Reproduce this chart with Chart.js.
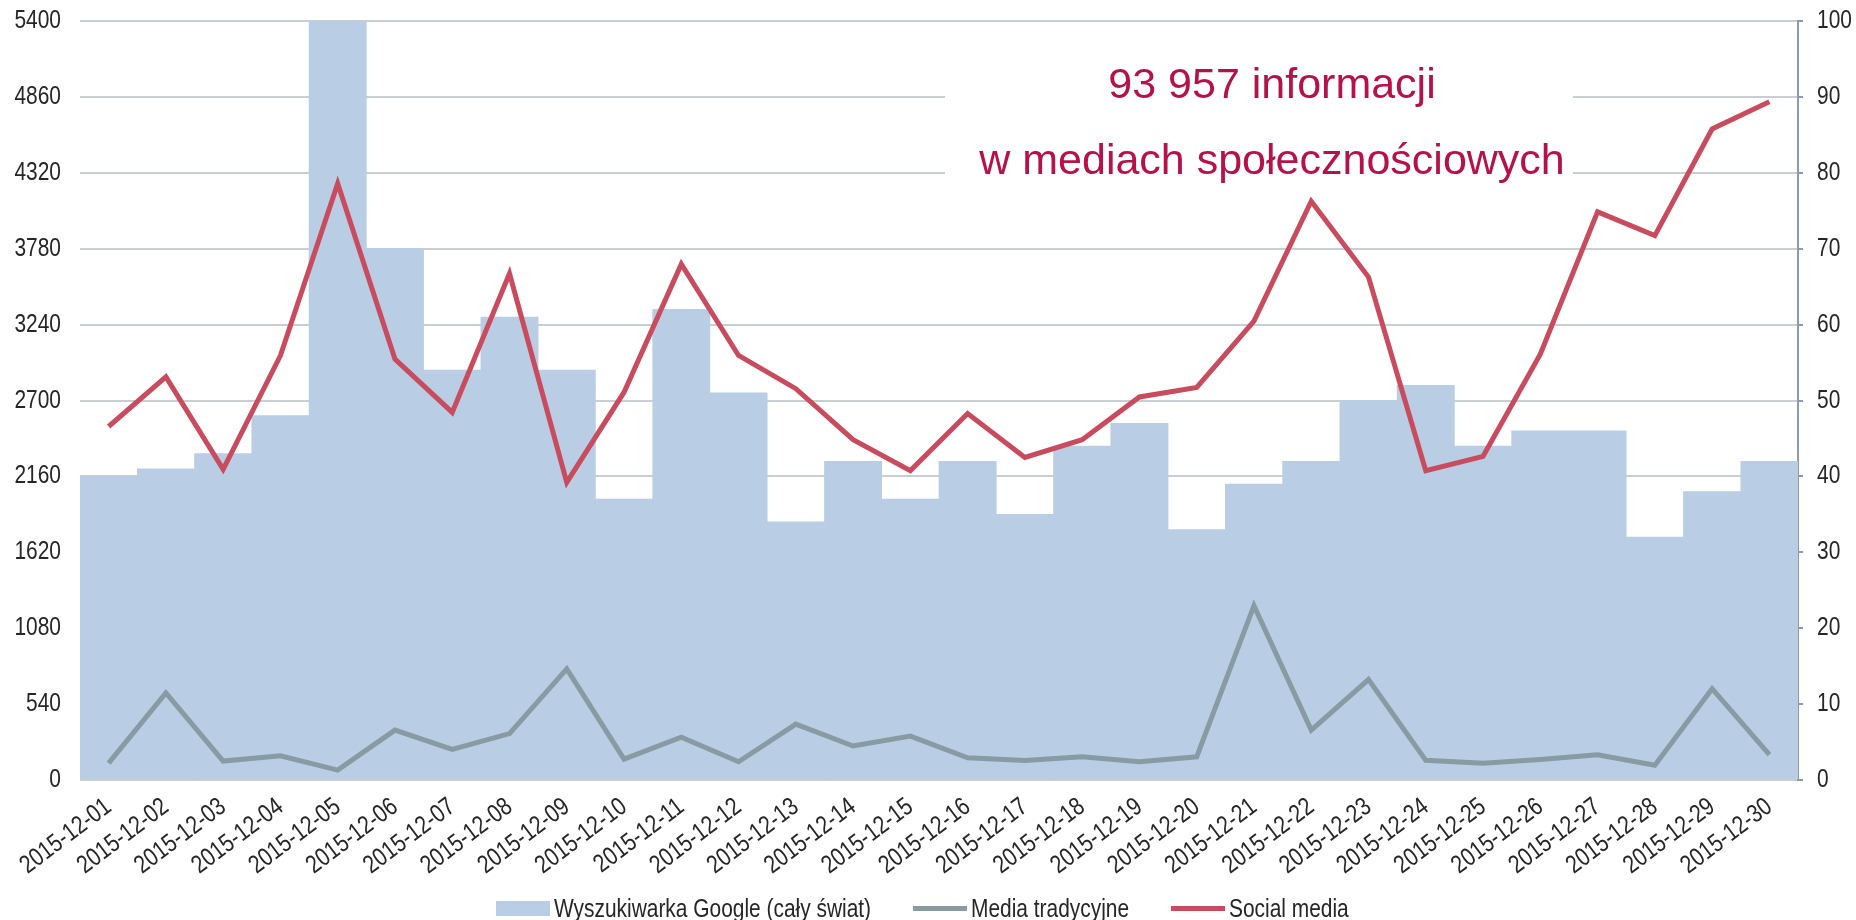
<!DOCTYPE html>
<html>
<head>
<meta charset="utf-8">
<script src="https://cdn.jsdelivr.net/npm/chart.js@4.4.1/dist/chart.umd.min.js"></script>
<style>
  html, body { margin: 0; padding: 0; background: #fff; }
  #wrap { position: relative; width: 1856px; height: 920px; overflow: hidden; }
  #legend {
    position: absolute; left: -6px; top: 893px; width: 1856px; height: 30px;
    display: flex; justify-content: center; align-items: center;
    color: #262626; white-space: nowrap;
  }
  .item { display: flex; align-items: center; margin: 0 21px; }
  .swatch { width: 54px; margin-right: 4px; }
  .label { display: inline-block; }
  .label span { display: inline-block; transform-origin: 0 50%; }
</style>
</head>
<body>
<div id="wrap">
  <canvas id="chart" width="1856" height="920"></canvas>
  <div id="legend"></div>
</div>
<script>
// Days of December 2015
const days = [
  '2015-12-01', '2015-12-02', '2015-12-03', '2015-12-04', '2015-12-05',
  '2015-12-06', '2015-12-07', '2015-12-08', '2015-12-09', '2015-12-10',
  '2015-12-11', '2015-12-12', '2015-12-13', '2015-12-14', '2015-12-15',
  '2015-12-16', '2015-12-17', '2015-12-18', '2015-12-19', '2015-12-20',
  '2015-12-21', '2015-12-22', '2015-12-23', '2015-12-24', '2015-12-25',
  '2015-12-26', '2015-12-27', '2015-12-28', '2015-12-29', '2015-12-30'
];

// Google search interest (right axis, 0-100)
const googleSearch = [40, 41, 43, 48, 100, 70, 54, 61, 54, 37,
                      62, 51, 34, 42, 37, 42, 35, 44, 47, 33,
                      39, 42, 50, 52, 44, 46, 46, 32, 38, 42];

// Traditional media mentions (left axis)
const traditionalMedia = [120, 620, 135, 172, 70, 355, 218, 330, 790, 148,
                          305, 130, 398, 242, 312, 158, 138, 165, 130, 165,
                          1240, 355, 715, 140, 119, 145, 180, 105, 650, 180];

// Social media mentions (left axis)
const socialMedia = [2515, 2868, 2210, 3020, 4244, 2995, 2615, 3603, 2117, 2759,
                     3670, 3020, 2784, 2421, 2201, 2607, 2295, 2421, 2725, 2793,
                     3265, 4118, 3578, 2201, 2303, 3029, 4042, 3873, 4632, 4826];

const seriesNames = ['Wyszukiwarka Google (cały świat)', 'Media tradycyjne', 'Social media'];
const calloutLines = ['93 957 informacji', 'w mediach społecznościowych'];

const FONT = "'Liberation Sans', Arial, sans-serif";
const SIZE = 25.5;
const NARROW = 0.82;   // no Arial Narrow here, so squeeze the regular face
const TEXT = '#262626';
const GRID = '#C9CED4';
const AXIS = '#8E9BA8';

const ctx = document.getElementById('chart').getContext('2d');

// fake a condensed font: every label is squeezed along its own baseline
const rawFillText = ctx.fillText;
const rawMeasureText = ctx.measureText;
ctx.fillText = function (text, x, y) {
  this.save();
  this.translate(x, y);
  this.scale(NARROW, 1);
  rawFillText.call(this, text, 0, 0);
  this.restore();
};
ctx.measureText = function (text) {
  const m = rawMeasureText.call(this, text);
  return {
    width: m.width * NARROW,
    actualBoundingBoxAscent: m.actualBoundingBoxAscent,
    actualBoundingBoxDescent: m.actualBoundingBoxDescent
  };
};

// white text box with the big red caption
const callout = {
  id: 'callout',
  beforeDatasetsDraw(chart) {
    const c = chart.ctx;
    c.save();
    c.fillStyle = '#ffffff';
    c.fillRect(945, 25, 628, 200);
    c.fillStyle = '#B5124B';
    c.font = '43px ' + FONT;
    c.textAlign = 'center';
    c.textBaseline = 'alphabetic';
    rawFillText.call(c, calloutLines[0], 1272, 98);
    rawFillText.call(c, calloutLines[1], 1272, 174);
    c.restore();
  }
};

const noPad = scale => {
  scale.paddingTop = 0;
  scale.paddingBottom = 0;
};

const chart = new Chart(ctx, {
  data: {
    labels: days,
    datasets: [
      {
        type: 'bar',
        label: seriesNames[0],
        data: googleSearch,
        yAxisID: 'y2',
        backgroundColor: '#B9CDE5',
        borderWidth: 0,
        barPercentage: 1,
        categoryPercentage: 1,
        order: 3
      },
      {
        type: 'line',
        label: seriesNames[1],
        data: traditionalMedia,
        yAxisID: 'y',
        borderColor: '#889BA3',
        backgroundColor: '#889BA3',
        borderWidth: 5,
        pointRadius: 0,
        tension: 0,
        order: 2
      },
      {
        type: 'line',
        label: seriesNames[2],
        data: socialMedia,
        yAxisID: 'y',
        borderColor: '#C84C5E',
        backgroundColor: '#C84C5E',
        borderWidth: 5,
        pointRadius: 0,
        tension: 0,
        order: 1
      }
    ]
  },
  options: {
    responsive: false,
    animation: false,
    devicePixelRatio: 1,
    layout: { padding: { top: 21, left: 0, right: 0, bottom: 0 } },
    plugins: {
      tooltip: { enabled: false },
      legend: { display: false }
    },
    scales: {
      x: {
        offset: true,
        grid: { display: false },
        border: { display: false },
        ticks: {
          font: { family: FONT, size: SIZE },
          color: TEXT,
          minRotation: 37,
          maxRotation: 37,
          autoSkip: false,
          padding: 4
        },
        afterFit: scale => {
          scale.height = 140;
          scale.paddingLeft = 0;
          scale.paddingRight = 0;
        }
      },
      y: {
        position: 'left',
        min: 0,
        max: 5400,
        grid: { color: GRID, lineWidth: 2, drawTicks: false },
        border: { display: false },
        ticks: {
          stepSize: 540,
          font: { family: FONT, size: SIZE },
          color: TEXT,
          padding: 19,
          callback: v => String(v)
        },
        afterFit: scale => { scale.width = 80; noPad(scale); }
      },
      y2: {
        position: 'right',
        min: 0,
        max: 100,
        grid: { drawOnChartArea: false, drawTicks: true, tickLength: 5, color: AXIS, lineWidth: 2 },
        border: { display: true, color: AXIS, width: 2 },
        ticks: {
          stepSize: 10,
          font: { family: FONT, size: SIZE },
          color: TEXT,
          padding: 14,
          callback: v => String(v)
        },
        afterFit: scale => { scale.width = 58; noPad(scale); }
      }
    }
  },
  plugins: [callout]
});

// legend under the axis labels, built from the datasets
const legend = document.getElementById('legend');
legend.style.font = SIZE + 'px ' + FONT;
const meter = document.createElement('canvas').getContext('2d');
meter.font = SIZE + 'px ' + FONT;
chart.data.datasets.forEach(ds => {
  const item = document.createElement('div');
  item.className = 'item';
  const sw = document.createElement('span');
  sw.className = 'swatch';
  if (ds.type === 'bar') {
    sw.style.height = '15px';
    sw.style.background = ds.backgroundColor;
  } else {
    sw.style.height = ds.borderWidth + 'px';
    sw.style.background = ds.borderColor;
  }
  const box = document.createElement('span');
  box.className = 'label';
  box.style.width = (meter.measureText(ds.label).width * NARROW) + 'px';
  const txt = document.createElement('span');
  txt.textContent = ds.label;
  txt.style.transform = 'scaleX(' + NARROW + ')';
  box.appendChild(txt);
  item.appendChild(sw);
  item.appendChild(box);
  legend.appendChild(item);
});
</script>
</body>
</html>
